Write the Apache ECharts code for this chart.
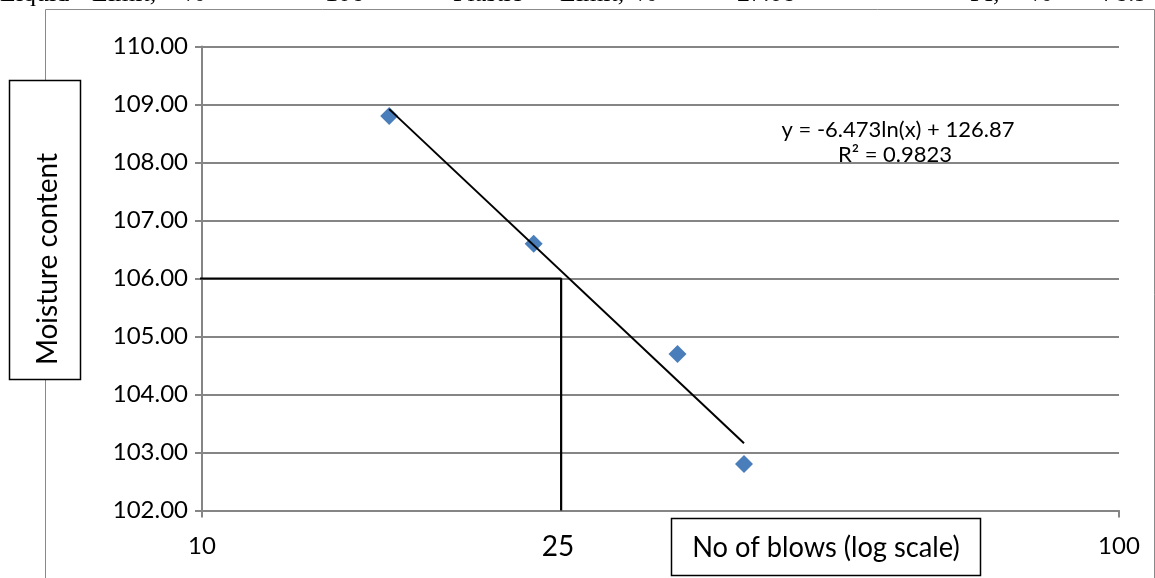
<!DOCTYPE html>
<html>
<head>
<meta charset="utf-8">
<script src="https://cdn.jsdelivr.net/npm/echarts@6/dist/echarts.min.js"></script>
<style>
  html, body { margin: 0; padding: 0; background: #fff; }
  #chart { width: 1155px; height: 578px; }
</style>
</head>
<body>
<div id="chart"></div>
<script>
// ---- data ----
const blows = [16, 23, 33, 39];
const moisture = [108.8, 106.6, 104.7, 102.8];
// logarithmic trendline (straight on a log x axis): its two end points
const trendBlows = [16, 39];
const trendMoisture = [108.92, 103.16];
// hand-drawn reading lines at 25 blows -> 106 %
const refBlows = [9.88, 24.64, 24.64];
const refMoisture = [106, 106, 102];
// axis ranges and labels
const yMin = 102, yMax = 110, yStep = 1;
const xMin = 10, xMax = 100;
const equationText = 'y = -6.473ln(x) + 126.87';
const r2Text = 'R² = 0.9823';
const yTitle = 'Moisture content';
const xTitle = 'No of blows (log scale)';
const markLabel = '25';
// header line of the page (cut off at the top)
const headerWords = ['Liquid', 'Limit,', '%', '106', 'Plastic', 'Limit,', '%', '27.08', 'PI,', '%', '78.9'];

const headerX = [0, 92, 183, 325, 453, 560, 635, 737, 970, 1030, 1102];

const chart = echarts.init(document.getElementById('chart'), null, { renderer: 'canvas' });

const FONT = 'Lato';
const GRID = '#858585';

const graphics = [
  // outer frame of the chart
  { type: 'rect', z: 0, silent: true,
    shape: { x: 45.5, y: 9.5, width: 1109, height: 600 },
    style: { fill: 'none', stroke: '#8a8a8a', lineWidth: 1 } },
  // y title box
  { type: 'rect', z: 10, shape: { x: 9.5, y: 80.5, width: 71, height: 299 },
    style: { fill: '#fff', stroke: '#000', lineWidth: 1.5 } },
  { type: 'text', z: 11, x: 48, y: 259, rotation: Math.PI / 2,
    style: { text: yTitle, font: '28px ' + FONT, fill: '#000', align: 'center', verticalAlign: 'middle' } },
  // x title box
  { type: 'rect', z: 10, shape: { x: 671.5, y: 518.5, width: 309, height: 57 },
    style: { fill: '#fff', stroke: '#000', lineWidth: 1.5 } },
  { type: 'text', z: 11, x: 826, y: 548, scaleX: 0.94,
    style: { text: xTitle, font: '29px ' + FONT, fill: '#000', align: 'center', verticalAlign: 'middle' } },
  // 25 marker label
  { type: 'text', z: 11, x: 558, y: 547,
    style: { text: markLabel, font: '28px ' + FONT, fill: '#000', align: 'center', verticalAlign: 'middle' } },
  // trendline equation
  { type: 'text', z: 11, x: 898, y: 130,
    style: { text: equationText, font: '22px ' + FONT, fill: '#000', align: 'center', verticalAlign: 'middle' } },
  { type: 'text', z: 11, x: 895, y: 155,
    style: { text: r2Text, font: '22px ' + FONT, fill: '#000', align: 'center', verticalAlign: 'middle' } }
];
headerWords.forEach((w, i) => {
  graphics.push({ type: 'text', z: 11, x: headerX[i], y: -6,
    style: { text: w, font: '26px "Liberation Serif"', fill: '#000', align: 'left', verticalAlign: 'middle' } });
});

const option = {
  animation: false,
  backgroundColor: '#fff',
  grid: { left: 202, right: 36, top: 46.5, bottom: 67.5, containLabel: false },
  xAxis: {
    type: 'log', logBase: 10, min: xMin, max: xMax,
    axisLine: { onZero: false, lineStyle: { color: GRID, width: 2 } },
    axisTick: { show: true, length: 7, lineStyle: { color: GRID, width: 2 } },
    axisLabel: { fontFamily: FONT, fontSize: 24, color: '#000', margin: 24 },
    splitLine: { show: false },
    minorTick: { show: false }
  },
  yAxis: {
    type: 'value', min: yMin, max: yMax, interval: yStep,
    axisLine: { show: true, onZero: false, lineStyle: { color: GRID, width: 2 } },
    axisTick: { show: true, length: 7, lineStyle: { color: GRID, width: 2 } },
    axisLabel: { fontFamily: FONT, fontSize: 24, color: '#000', margin: 14,
      formatter: v => v.toFixed(2) },
    splitLine: { show: true, lineStyle: { color: GRID, width: 2 } }
  },
  series: [
    { type: 'scatter', z: 3, symbol: 'diamond', symbolSize: 18,
      itemStyle: { color: '#4A7EBB', opacity: 1 },
      data: blows.map((b, i) => [b, moisture[i]]) },
    { type: 'line', z: 4, symbol: 'none', silent: true,
      lineStyle: { color: '#000', width: 2 },
      data: trendBlows.map((b, i) => [b, trendMoisture[i]]) },
    { type: 'line', z: 4, symbol: 'none', silent: true, clip: false,
      lineStyle: { color: '#000', width: 2.2 },
      data: refBlows.map((b, i) => [b, refMoisture[i]]) }
  ],
  graphic: graphics
};
chart.setOption(option);
</script>
</body>
</html>
